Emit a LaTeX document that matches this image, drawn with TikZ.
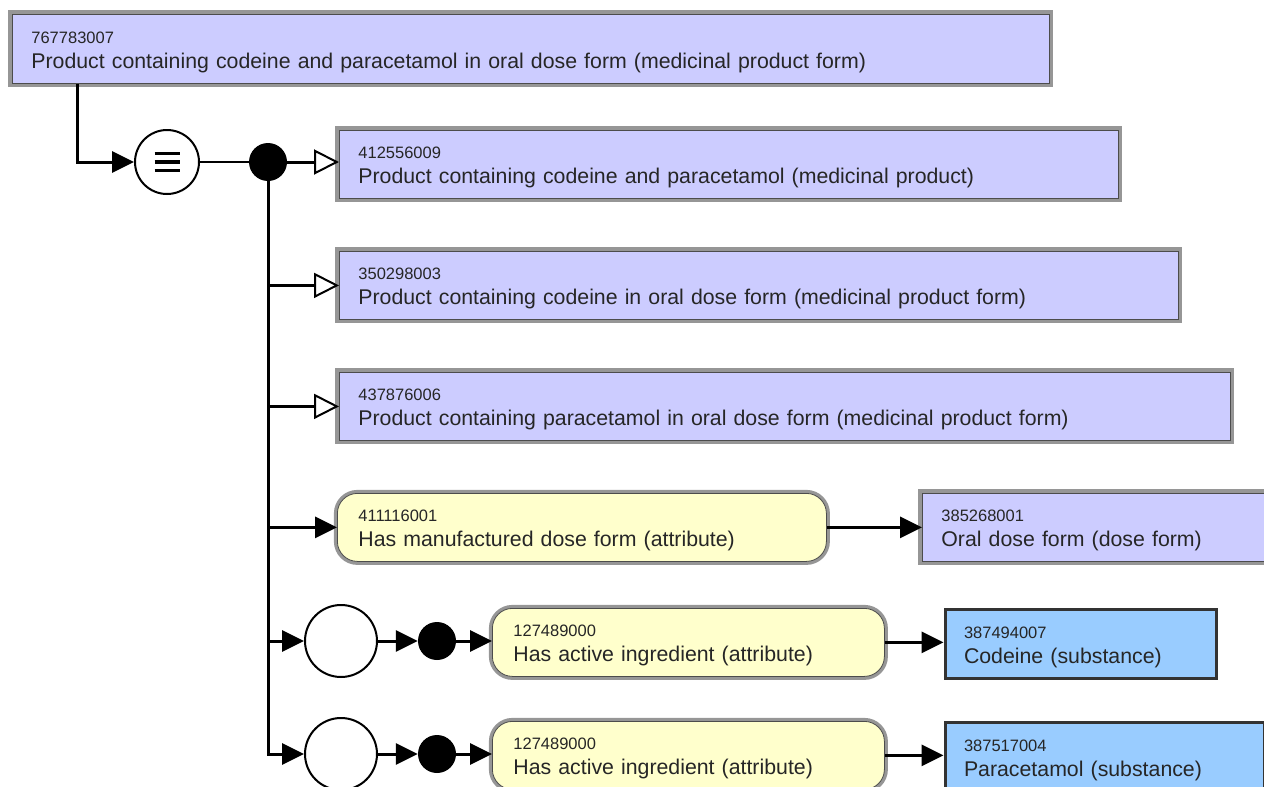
\documentclass[tikz,border=0pt]{standalone}
\usepackage{fontspec}
\setmainfont{Liberation Sans}
\usetikzlibrary{arrows.meta}
\definecolor{lav}{RGB}{204,204,255}
\definecolor{sub}{RGB}{153,204,255}
\definecolor{attr}{RGB}{255,255,204}
\definecolor{bandgray}{RGB}{150,150,150}
\tikzset{
  x=1pt, y=-1pt,
  basebox/.style={anchor=north west, inner xsep=19pt, inner ysep=0pt, align=left,
    font=\fontsize{21.3}{25}\selectfont, text=black!85},
  conbox/.style={basebox, fill=lav, draw=black!70, line width=0.8pt,
    preaction={draw=bandgray, line width=8pt}},
  attrbox/.style={basebox, fill=attr, draw=black!70, line width=0.8pt, rounded corners=20pt,
    inner xsep=21pt, preaction={draw=bandgray, line width=7pt}},
  subbox/.style={basebox, fill=sub, draw=black!80, line width=3pt},
  arr/.style={line width=3pt, -{Triangle[length=22pt,width=21pt]}},
  isa/.style={line width=3pt, -{Triangle[length=25pt,width=25pt,fill=white,line width=2pt]}},
  ring/.style={circle, draw=black, line width=2pt, fill=white, minimum size=72pt, inner sep=0pt},
  dot/.style={circle, fill=black, minimum size=38pt, inner sep=0pt},
}
\newcommand{\idn}[1]{\rule{0pt}{20pt}{\fontsize{16.5}{25}\selectfont #1}\\}
\newcommand{\lbl}[1]{#1\rule[-6pt]{0pt}{6pt}}
\begin{document}
\begin{tikzpicture}
\useasboundingbox (0,0) rectangle (1264,787);
% concept boxes
\node[conbox, minimum height=69pt, text width=999pt] (top) at (12,14)
  {\idn{767783007}\lbl{Product containing codeine and paracetamol in oral dose form (medicinal product form)}};
\node[conbox, minimum height=68pt, text width=741pt] (b2) at (339,130)
  {\idn{412556009}\lbl{Product containing codeine and paracetamol (medicinal product)}};
\node[conbox, minimum height=68pt, text width=801pt] (b3) at (339,251)
  {\idn{350298003}\lbl{Product containing codeine in oral dose form (medicinal product form)}};
\node[conbox, minimum height=68pt, text width=853pt] (b4) at (339,372)
  {\idn{437876006}\lbl{Product containing paracetamol in oral dose form (medicinal product form)}};
\node[attrbox, minimum height=68pt, text width=447pt] (a1) at (337,493)
  {\idn{411116001}\lbl{Has manufactured dose form (attribute)}};
\node[conbox, minimum height=68pt, text width=330pt] (b5) at (922,493)
  {\idn{385268001}\lbl{Oral dose form (dose form)}};
\node[attrbox, minimum height=68pt, text width=350pt] (a2) at (492,608)
  {\idn{127489000}\lbl{Has active ingredient (attribute)}};
\node[subbox, minimum height=69pt, text width=233pt] (s1) at (943.5,607.5)
  {\idn{387494007}\lbl{Codeine (substance)}};
\node[attrbox, minimum height=68pt, text width=350pt] (a3) at (492,721)
  {\idn{127489000}\lbl{Has active ingredient (attribute)}};
\node[subbox, minimum height=69pt, text width=281pt] (s2) at (943.5,720.5)
  {\idn{387517004}\lbl{Paracetamol (substance)}};
% operators
\node[ring, minimum size=64pt,
  path picture={\foreach \dy in {-8.5,0,8.5}{\draw[line width=3.3pt] ([shift={(-12.5,\dy)}]path picture bounding box.center) -- ++(25,0);}}] (eq) at (167,162) {};
\node[dot] (d0) at (268,162) {};
\node[ring] (r1) at (341,641) {};
\node[dot] (d1) at (437,641) {};
\node[ring] (r2) at (341,754) {};
\node[dot] (d2) at (437,754) {};
% connectors
\draw[arr] ([xshift=65pt]top.south west) |- (eq);
\draw[line width=2pt] (eq) -- (d0);
\draw[isa] (d0) -- (d0 -| b2.west);
\draw[isa] (d0) |- (b3.west);
\draw[isa] (d0) |- (b4.west);
\draw[arr] (d0) |- (a1.west);
\draw[arr] (d0) |- (r1);
\draw[arr] (d0) |- (r2);
\draw[arr] (r1) -- (d1);
\draw[arr] (d1) -- (d1 -| a2.west);
\draw[arr] (r2) -- (d2);
\draw[arr] (d2) -- (d2 -| a3.west);
\draw[arr] (a1) -- (b5.west);
\draw[arr] (a2) -- (a2 -| s1.west);
\draw[arr] (a3) -- (a3 -| s2.west);
\end{tikzpicture}
\end{document}
